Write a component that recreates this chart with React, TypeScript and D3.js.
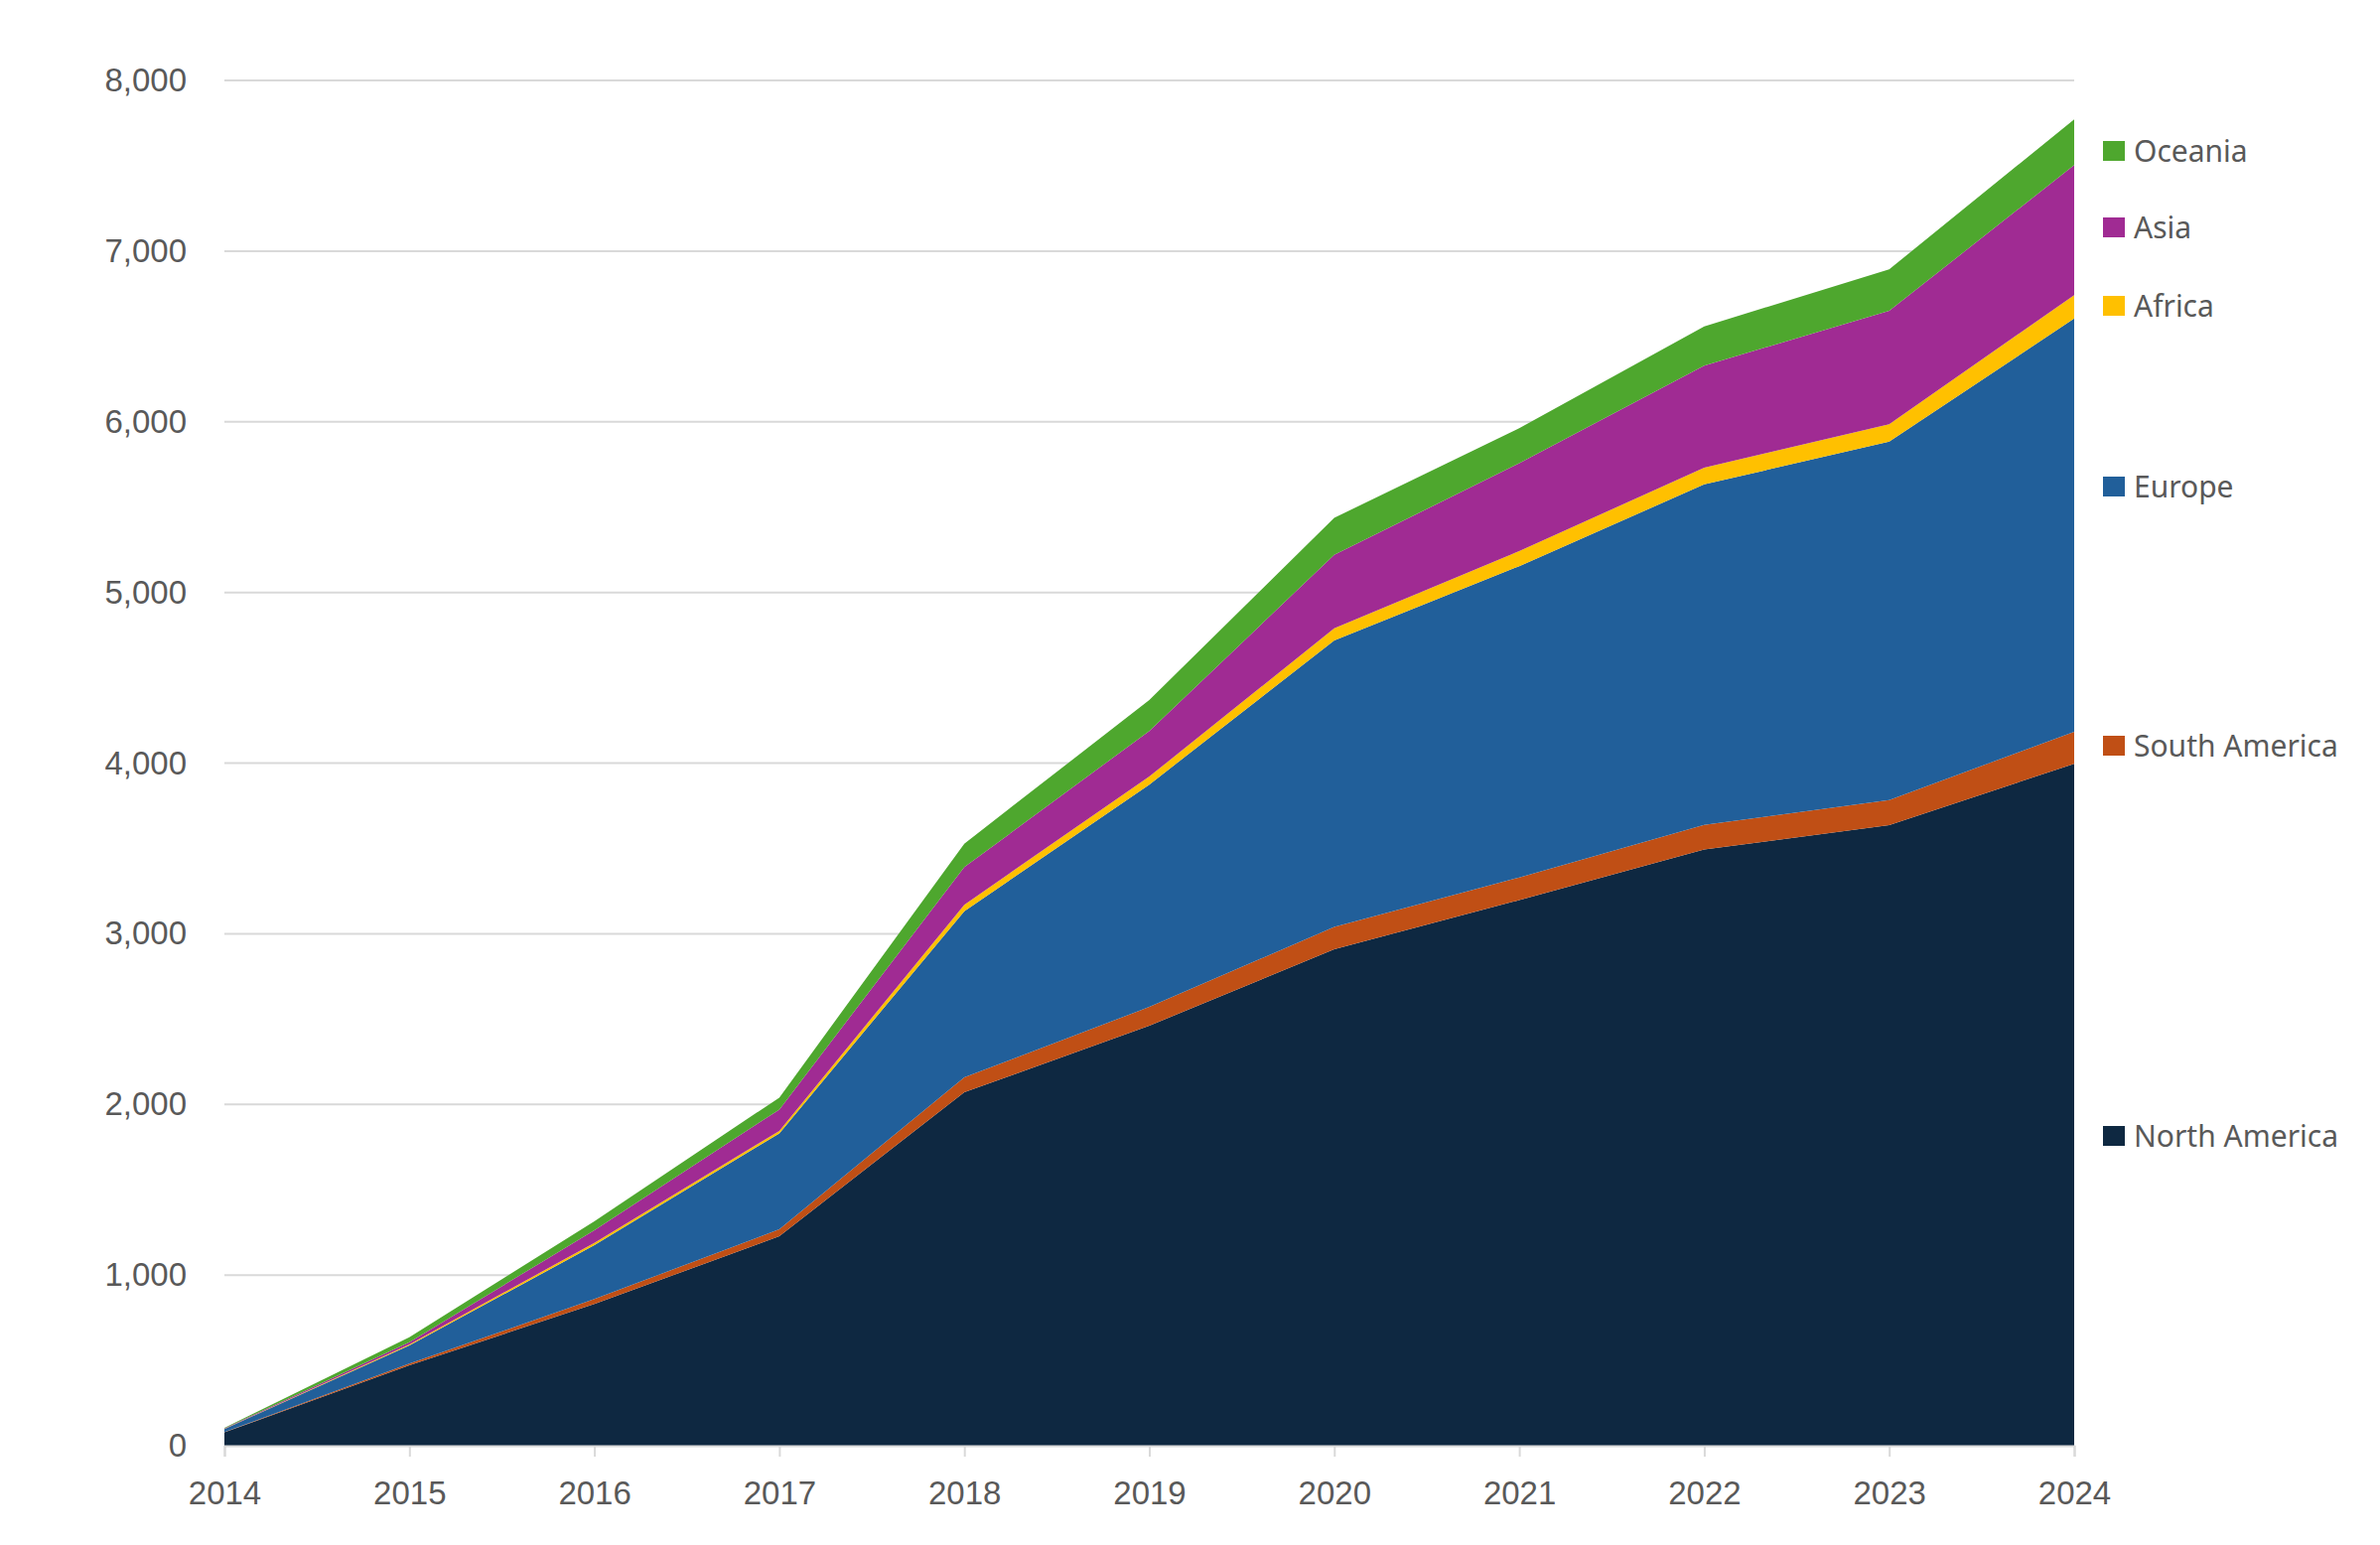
import * as d3 from 'd3';
import { useEffect, useRef } from 'react';

const years = [2014, 2015, 2016, 2017, 2018, 2019, 2020, 2021, 2022, 2023, 2024];

const northAmerica = [78, 471, 830, 1227, 2071, 2461, 2909, 3197, 3494, 3636, 3996];
const southAmerica = [2, 10, 29, 41, 87, 110, 131, 133, 144, 147, 188];
const europe = [18, 106, 316, 562, 974, 1303, 1678, 1824, 1995, 2100, 2421];
const africa = [1, 6, 14, 15, 38, 47, 72, 88, 98, 103, 137];
const asia = [3, 14, 73, 125, 220, 267, 430, 515, 598, 664, 762];
const oceania = [3, 29, 53, 70, 138, 181, 217, 205, 230, 243, 268];

const yTicks = [0, 1000, 2000, 3000, 4000, 5000, 6000, 7000, 8000];

const seriesNames = ['North America', 'South America', 'Europe', 'Africa', 'Asia', 'Oceania'];
const seriesValues = [northAmerica, southAmerica, europe, africa, asia, oceania];
const seriesColors = ['#0e2841', '#c04f15', '#215f9a', '#ffc000', '#a02b93', '#4ea72e'];

// legend rows sit next to the 2024 end of each band, like Excel does
const legendY = [1144, 751, 490, 308, 229, 152];

export default function App() {
  const svgRef = useRef<SVGSVGElement>(null);
  const width = 2397;
  const height = 1556;

  useEffect(() => {
    if (!svgRef.current) return;
    const svg = d3.select(svgRef.current);
    svg.selectAll('*').remove();

    const margin = { top: 81, right: 308, bottom: 100, left: 226 };
    const innerW = width - margin.left - margin.right;
    const innerH = height - margin.top - margin.bottom;

    const rows = years.map((year, i) => {
      const row: Record<string, number> = { year };
      seriesNames.forEach((name, s) => {
        row[name] = seriesValues[s][i];
      });
      return row;
    });

    const stacked = d3.stack<Record<string, number>>().keys(seriesNames)(rows);

    const x = d3
      .scaleLinear()
      .domain([years[0], years[years.length - 1]])
      .range([0, innerW]);
    const y = d3.scaleLinear().domain([0, 8000]).range([innerH, 0]);

    const g = svg
      .append('g')
      .attr('transform', `translate(${margin.left},${margin.top})`);

    // gridlines
    g.append('g')
      .selectAll('line')
      .data(yTicks.slice(1))
      .enter()
      .append('line')
      .attr('x1', 0)
      .attr('x2', innerW)
      .attr('y1', (d) => y(d))
      .attr('y2', (d) => y(d))
      .attr('stroke', '#d9d9d9')
      .attr('stroke-width', 2);

    const area = d3
      .area<d3.SeriesPoint<Record<string, number>>>()
      .x((d) => x(d.data.year))
      .y0((d) => y(d[0]))
      .y1((d) => y(d[1]));

    g.append('g')
      .selectAll('path')
      .data(stacked)
      .enter()
      .append('path')
      .attr('d', (d) => area(d) || '')
      .attr('fill', (_, i) => seriesColors[i]);

    // x axis
    const xAxis = g
      .append('g')
      .attr('transform', `translate(0,${innerH})`)
      .call(
        d3
          .axisBottom(x)
          .tickValues(years)
          .tickFormat((d) => String(d))
          .tickSize(11)
          .tickPadding(25),
      );
    xAxis.select('.domain').attr('stroke', '#d9d9d9').attr('stroke-width', 2);
    xAxis.selectAll('.tick line').attr('stroke', '#d9d9d9').attr('stroke-width', 2);
    xAxis
      .selectAll('text')
      .style('font-family', '"Liberation Sans", Arial, sans-serif')
      .style('font-size', '33px')
      .style('fill', '#595959');

    // y axis
    const yAxis = g.append('g').call(
      d3
        .axisLeft(y)
        .tickValues(yTicks)
        .tickFormat((d) => d3.format(',')(d as number))
        .tickSize(0)
        .tickPadding(38),
    );
    yAxis.select('.domain').remove();
    yAxis
      .selectAll('text')
      .style('font-family', '"Liberation Sans", Arial, sans-serif')
      .style('font-size', '33px')
      .style('fill', '#595959');

    // legend
    const legend = svg
      .append('g')
      .selectAll('g')
      .data(seriesNames)
      .enter()
      .append('g')
      .attr('transform', (_, i) => `translate(2118,${legendY[i]})`);
    legend
      .append('rect')
      .attr('x', 0)
      .attr('y', -10)
      .attr('width', 22)
      .attr('height', 20)
      .attr('fill', (_, i) => seriesColors[i]);
    legend
      .append('text')
      .attr('x', 31)
      .attr('y', 0)
      .attr('dy', '0.35em')
      .text((d) => d)
      .style('font-family', '"Noto Sans", sans-serif')
      .style('font-size', '30px')
      .style('fill', '#595959');
  }, []);

  return (
    <div>
      <style>{'body{margin:0;background:#fff}'}</style>
      <svg ref={svgRef} width={width} height={height} style={{ display: 'block' }} />
    </div>
  );
}
